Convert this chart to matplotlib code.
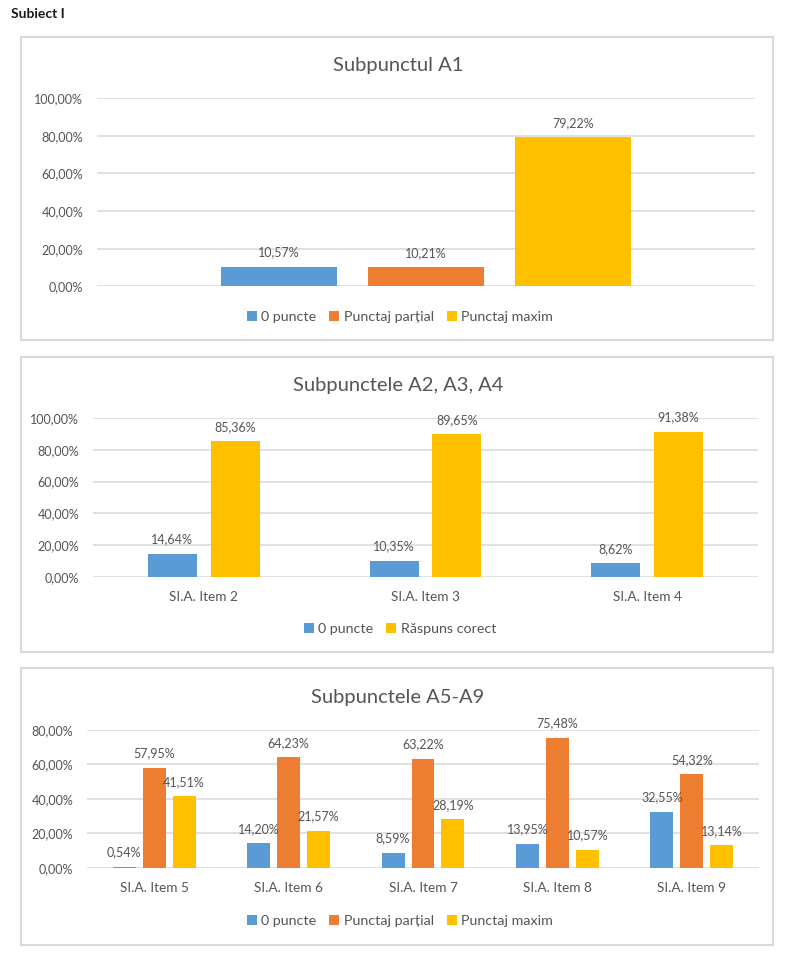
import numpy as np
import matplotlib.pyplot as plt
from matplotlib.patches import Rectangle

plt.rcParams['font.family'] = ['Lato', 'DejaVu Sans']

W, H = 800, 966
BLUE = '#5B9BD5'
ORANGE = '#ED7D31'
YELLOW = '#FFC000'
GRID = '#D9D9D9'
TXT = '#555555'

# chart 1 - Subpunctul A1
a1_labels = ['0 puncte', 'Punctaj parțial', 'Punctaj maxim']
a1_values = [10.57, 10.21, 79.22]

# chart 2 - Subpunctele A2, A3, A4
a2_items = ['SI.A. Item 2', 'SI.A. Item 3', 'SI.A. Item 4']
a2_zero = [14.64, 10.35, 8.62]
a2_correct = [85.36, 89.65, 91.38]

# chart 3 - Subpunctele A5-A9
a5_items = ['SI.A. Item 5', 'SI.A. Item 6', 'SI.A. Item 7', 'SI.A. Item 8', 'SI.A. Item 9']
a5_zero = [0.54, 14.20, 8.59, 13.95, 32.55]
a5_partial = [57.95, 64.23, 63.22, 75.48, 54.32]
a5_max = [41.51, 21.57, 28.19, 10.57, 13.14]


def pct(v):
    return f'{v:.2f}'.replace('.', ',') + '%'


fig = plt.figure(figsize=(W / 100, H / 100), dpi=100)
fig.patch.set_facecolor('white')


def px_axes(l, r, t, b):
    return fig.add_axes([l / W, 1 - b / H, (r - l) / W, (b - t) / H])


def panel(t, b):
    # light grey frame round each chart
    fig.patches.append(Rectangle((21 / W, 1 - b / H), (773 - 21) / W, (b - t) / H,
                                 transform=fig.transFigure, fill=False,
                                 edgecolor=GRID, linewidth=1.5))


def style(ax, ymax, step):
    ticks = np.arange(0, ymax + 0.01, step)
    ax.set_ylim(0, ymax)
    ax.set_yticks(ticks)
    ax.set_yticklabels([pct(t) for t in ticks], color=TXT, fontsize=9)
    ax.tick_params(axis='both', length=0, pad=10)
    for s in ax.spines.values():
        s.set_visible(False)
    ax.grid(axis='y', color=GRID, linewidth=1.1)
    ax.set_axisbelow(True)
    ax.patch.set_alpha(0)


def bar_labels(ax, bars, vals):
    for r, v in zip(bars, vals):
        ax.annotate(pct(v), (r.get_x() + r.get_width() / 2, r.get_height()),
                    xytext=(0, 6), textcoords='offset points',
                    ha='center', va='bottom', fontsize=9, color=TXT, clip_on=False)


def legend(handles, y):
    fig.legend(handles=handles, loc='center', bbox_to_anchor=(400 / W, 1 - y / H),
               ncol=len(handles), frameon=False, fontsize=10.3, labelcolor=TXT,
               handlelength=0.7, handleheight=0.7, handletextpad=0.3, columnspacing=0.9)


fig.text(11 / W, 1 - 14 / H, 'Subiect I', fontsize=10, fontweight='bold',
         color='#1a1a1a', va='center', ha='left')

# ---- chart 1
panel(37, 340)
ax1 = px_axes(97, 755, 98, 286.5)
style(ax1, 100, 20)
offs = [-0.223, 0, 0.223]
cols = [BLUE, ORANGE, YELLOW]
handles = []
for o, v, c, lab in zip(offs, a1_values, cols, a1_labels):
    b = ax1.bar([o], [v], width=0.176, color=c, label=lab)
    bar_labels(ax1, b, [v])
    handles.append(b)
ax1.set_xlim(-0.5, 0.5)
ax1.set_xticks([])
fig.text(398 / W, 1 - 66 / H, 'Subpunctul A1', fontsize=14.5, color=TXT, ha='center', va='center')
legend(handles, 317)

# ---- chart 2
panel(357, 652)
ax2 = px_axes(93, 758, 418, 577)
style(ax2, 100, 20)
x2 = np.arange(len(a2_items))
b_zero = ax2.bar(x2 - 0.142, a2_zero, width=0.221, color=BLUE, label='0 puncte')
b_corr = ax2.bar(x2 + 0.142, a2_correct, width=0.221, color=YELLOW, label='Răspuns corect')
bar_labels(ax2, b_zero, a2_zero)
bar_labels(ax2, b_corr, a2_correct)
ax2.set_xlim(-0.5, len(a2_items) - 0.5)
ax2.set_xticks(x2)
ax2.set_xticklabels(a2_items, fontsize=9.8, color=TXT)
ax2.tick_params(axis='x', pad=10)
fig.text(398 / W, 1 - 385 / H, 'Subpunctele A2, A3, A4', fontsize=14.5, color=TXT, ha='center', va='center')
legend([b_zero, b_corr], 629)

# ---- chart 3
panel(668, 945)
ax3 = px_axes(87, 759, 730, 867.7)
style(ax3, 80, 20)
x3 = np.arange(len(a5_items))
w3 = 0.171
b0 = ax3.bar(x3 - 0.223, a5_zero, width=w3, color=BLUE, label='0 puncte')
b1 = ax3.bar(x3, a5_partial, width=w3, color=ORANGE, label='Punctaj parțial')
b2 = ax3.bar(x3 + 0.223, a5_max, width=w3, color=YELLOW, label='Punctaj maxim')
bar_labels(ax3, b0, a5_zero)
bar_labels(ax3, b1, a5_partial)
bar_labels(ax3, b2, a5_max)
ax3.set_xlim(-0.5, len(a5_items) - 0.5)
ax3.set_xticks(x3)
ax3.set_xticklabels(a5_items, fontsize=9.8, color=TXT)
ax3.tick_params(axis='x', pad=10)
fig.text(398 / W, 1 - 697 / H, 'Subpunctele A5-A9', fontsize=14.5, color=TXT, ha='center', va='center')
legend([b0, b1, b2], 921)

fig.savefig('out.png', dpi=100, facecolor='white')
